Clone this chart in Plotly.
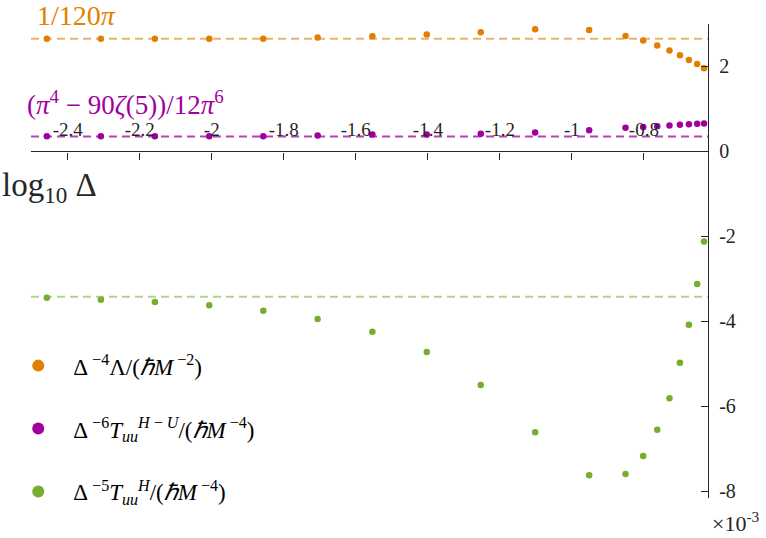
import plotly.graph_objects as go

# ---- data (log10 Delta on x; values in units of 1e-3 on y) ----
x_vals = [-2.458, -2.308, -2.158, -2.007, -1.857, -1.706, -1.554, -1.403, -1.253,
          -1.102, -0.952, -0.851, -0.802, -0.763, -0.729, -0.700, -0.675, -0.652, -0.633]
lam = [2.652, 2.652, 2.652, 2.652, 2.655, 2.682, 2.713, 2.753, 2.807,
       2.878, 2.861, 2.720, 2.612, 2.494, 2.376, 2.266, 2.155, 2.061, 1.960]
t_hu = [0.355, 0.355, 0.355, 0.356, 0.358, 0.376, 0.400, 0.400, 0.414,
        0.447, 0.501, 0.555, 0.572, 0.595, 0.612, 0.626, 0.642, 0.649, 0.659]
t_h = [-3.445, -3.492, -3.546, -3.624, -3.751, -3.946, -4.245, -4.722, -5.499,
       -6.612, -7.624, -7.593, -7.169, -6.551, -5.812, -4.974, -4.080, -3.122, -2.118]

ref_lam = 2.6526   # 1/(120 pi) * 1e3
ref_thu = 0.3541   # (pi^4 - 90 zeta(5)) / (12 pi^6) * 1e3
ref_th = -3.42

x_ticks = [-2.4, -2.2, -2.0, -1.8, -1.6, -1.4, -1.2, -1.0, -0.8]
x_ticktext = ["-2.4", "-2.2", "-2", "-1.8", "-1.6", "-1.4", "-1.2", "-1", "-0.8"]
y_ticks = [-8, -6, -4, -2, 0, 2]
y_ticktext = ["-8", "-6", "-4", "-2", "0", "2"]

names = ["Δ<sup> −4</sup>Λ/(<i>ℏM</i><sup> −2</sup>)",
         "Δ<sup> −6</sup><i>T</i><sub><i>uu</i></sub><sup><i>H</i> − <i>U</i></sup>/(<i>ℏM</i><sup> −4</sup>)",
         "Δ<sup> −5</sup><i>T</i><sub><i>uu</i></sub><sup><i>H</i></sup>/(<i>ℏM</i><sup> −4</sup>)"]
colors = ["#E37F00", "#A0009E", "#74AE2C"]
line_colors = ["rgba(227,127,0,0.6)", "rgba(160,0,158,0.75)", "rgba(116,174,44,0.55)"]

XR = [-2.502, -0.622]
YR = [-8.16, 3.0]

fig = go.Figure()
for i, (ys, refv) in enumerate([(lam, ref_lam), (t_hu, ref_thu), (t_h, ref_th)]):
    fig.add_trace(go.Scatter(x=x_vals, y=ys, mode="markers", name=names[i],
                             legendgroup=f"g{i}",
                             marker=dict(color=colors[i], size=6.5)))
    fig.add_shape(type="line", xref="x domain", x0=0, x1=1, yref="y", y0=refv, y1=refv,
                  line=dict(color=line_colors[i], width=2, dash="8px,5px"), layer="below")

serif = "Liberation Serif"
fig.update_layout(
    width=766, height=538,
    margin=dict(l=31, r=58, t=24, b=40, autoexpand=False),
    plot_bgcolor="white", paper_bgcolor="white",
    font=dict(family=serif, size=18, color="#262626"),
    showlegend=True,
    legend=dict(x=-0.041, xanchor="left", y=-0.032, yanchor="bottom",
                font=dict(family=serif, size=23, color="#000000"),
                tracegroupgap=30, itemsizing="constant", itemwidth=60,
                bgcolor="rgba(0,0,0,0)"),
    xaxis=dict(range=XR, anchor="free",
               position=(0 - YR[0]) / (YR[1] - YR[0]),
               side="top", ticks="inside", ticklen=7, tickcolor="#262626",
               showline=True, linecolor="#262626", linewidth=1.3,
               tickvals=x_ticks, ticktext=x_ticktext, showgrid=False, zeroline=False,
               tickfont=dict(family=serif, size=19, color="#262626"),
               ticklabelstandoff=8),
    yaxis=dict(range=YR, side="right", ticks="inside", ticklen=7, tickcolor="#262626",
               showline=True, linecolor="#262626", linewidth=1.3,
               tickvals=y_ticks, ticktext=y_ticktext, showgrid=False, zeroline=False,
               tickfont=dict(family=serif, size=20, color="#262626"),
               ticklabelstandoff=6),
)

fig.add_annotation(text="log<sub>10</sub> Δ", xref="x domain", x=0, xshift=-31, xanchor="left",
                   yref="y", y=-0.84, showarrow=False,
                   font=dict(family=serif, size=33, color="#262626"))
fig.add_annotation(text="1/120<i>π</i>", xref="x domain", x=0, xshift=4, xanchor="left",
                   yref="y domain", y=1, yshift=9, yanchor="middle", showarrow=False,
                   font=dict(family=serif, size=28, color=colors[0]))
fig.add_annotation(text="(<i>π</i><sup>4</sup> − 90<i>ζ</i>(5))/12<i>π</i><sup>6</sup>",
                   xref="x domain", x=0, xshift=-6, xanchor="left",
                   yref="y", y=1.15, showarrow=False,
                   font=dict(family=serif, size=27, color=colors[1]))
fig.add_annotation(text="×10<sup>-3</sup>", xref="x domain", x=1, xshift=2, xanchor="left",
                   yref="paper", y=0, yshift=-24, yanchor="middle", showarrow=False,
                   font=dict(family=serif, size=22, color="#262626"))

fig.write_html("out.html", config={"displayModeBar": False},
               post_script="document.body.style.margin='0';")
